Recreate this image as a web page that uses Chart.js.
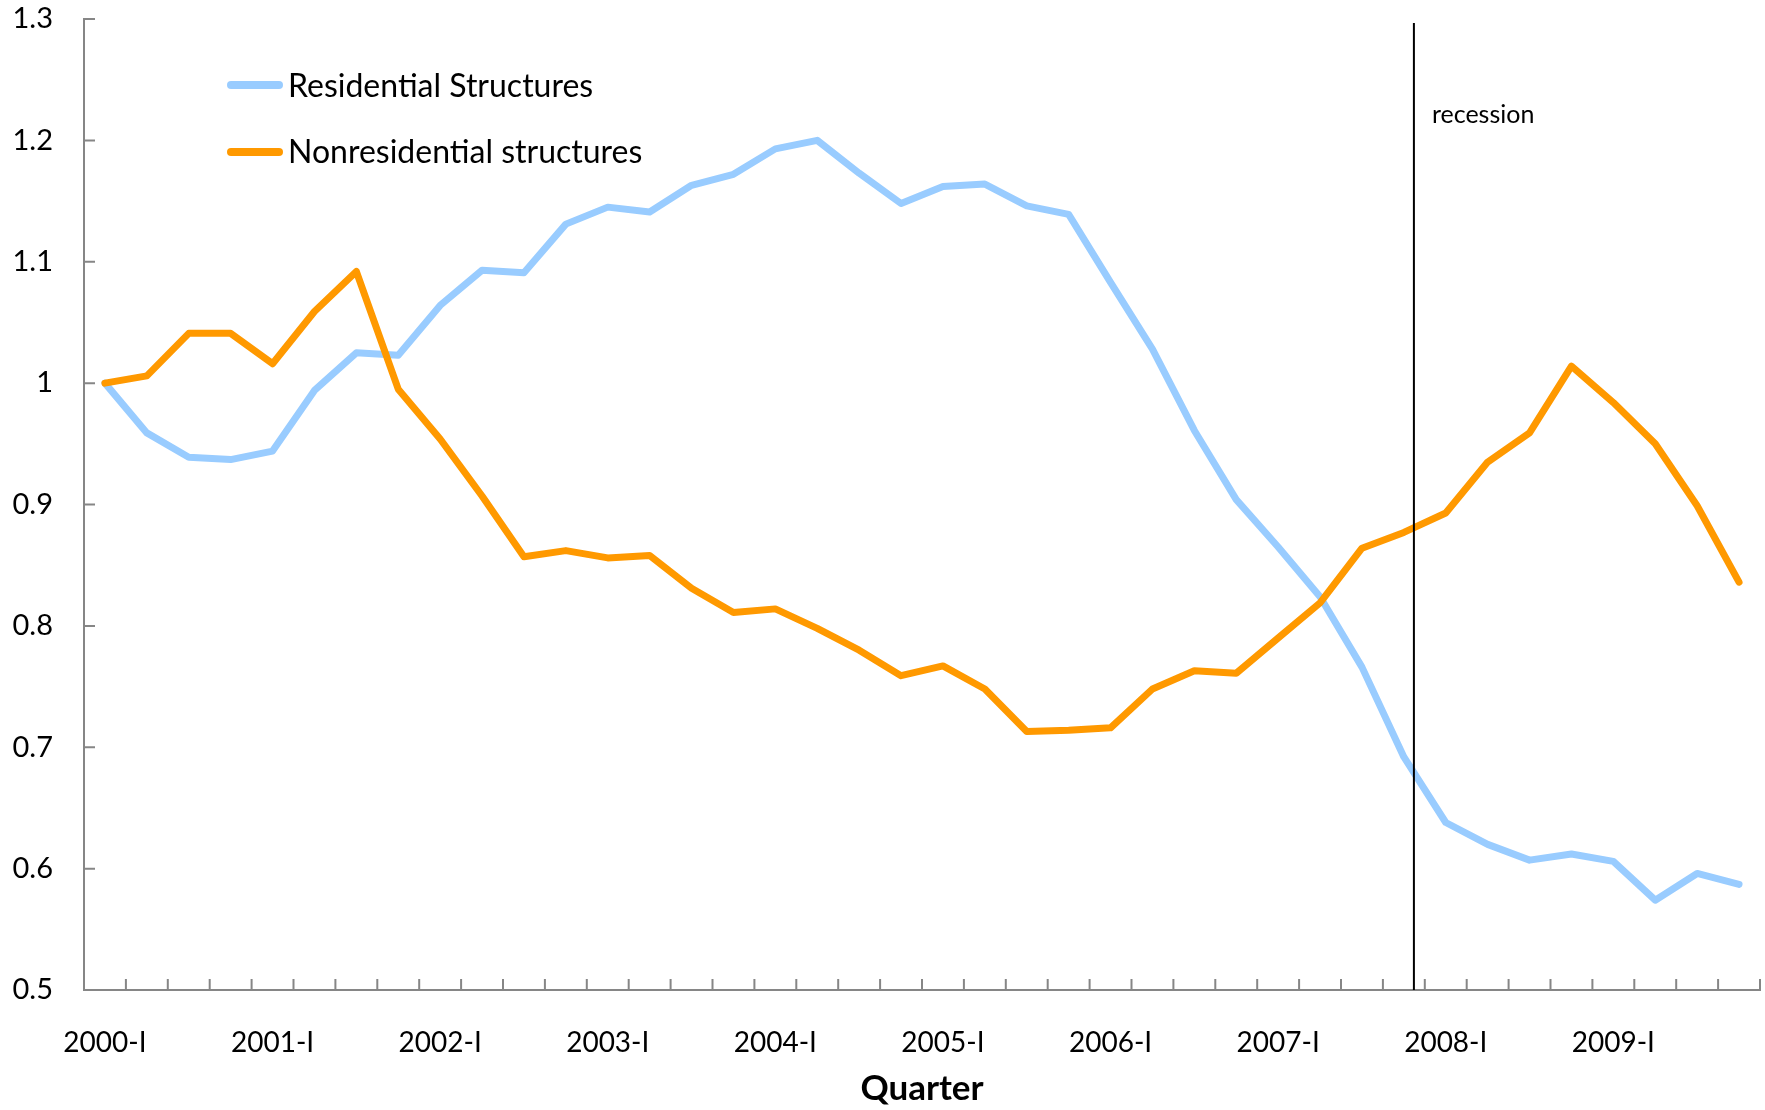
<!DOCTYPE html>
<html>
<head>
<meta charset="utf-8">
<script src="https://cdn.jsdelivr.net/npm/chart.js@4.4.1/dist/chart.umd.min.js"></script>
<style>
  html, body { margin: 0; padding: 0; background: #ffffff; }
  #wrap { width: 1765px; height: 1110px; }
</style>
</head>
<body>
<div id="wrap"><canvas id="c" width="1765" height="1110"></canvas></div>
<script>
// ---- data ----
const years = ['2000','2001','2002','2003','2004','2005','2006','2007','2008','2009'];
const quarterNames = ['I','II','III','IV'];
const quarters = [];
years.forEach(y => quarterNames.forEach(q => quarters.push(y + '-' + q)));

const residential = [
  1.000, 0.959, 0.939, 0.937, 0.944, 0.994, 1.025, 1.023, 1.064, 1.093,
  1.091, 1.131, 1.145, 1.141, 1.163, 1.172, 1.193, 1.200, 1.173, 1.148,
  1.162, 1.164, 1.146, 1.139, 1.083, 1.028, 0.961, 0.904, 0.865, 0.824,
  0.766, 0.692, 0.638, 0.620, 0.607, 0.612, 0.606, 0.574, 0.596, 0.587
];
const nonresidential = [
  1.000, 1.006, 1.041, 1.041, 1.016, 1.059, 1.092, 0.995, 0.954, 0.907,
  0.857, 0.862, 0.856, 0.858, 0.831, 0.811, 0.814, 0.798, 0.780, 0.759,
  0.767, 0.748, 0.713, 0.714, 0.716, 0.748, 0.763, 0.761, 0.790, 0.819,
  0.864, 0.877, 0.893, 0.935, 0.959, 1.014, 0.984, 0.950, 0.899, 0.836
];
const seriesNames = ['Residential Structures', 'Nonresidential structures'];
const seriesColors = ['#99CCFF', '#FF9900'];
const yMin = 0.5, yMax = 1.3, yStep = 0.1;
const labelEvery = 4;
const recessionIndex = 31.24;   // position in quarter units (late 2007-IV)
const recessionText = 'recession';
const xTitle = 'Quarter';

const FONT = 'Lato';
const AXIS_GRAY = '#868686';

// ---- plugins ----
const innerTicks = {
  id: 'innerTicks',
  beforeDatasetsDraw(chart) {
    const {ctx, chartArea: a, scales: {x, y}} = chart;
    ctx.save();
    ctx.strokeStyle = AXIS_GRAY;
    ctx.lineWidth = 2;
    ctx.beginPath();
    y.ticks.forEach(t => {
      const py = y.getPixelForValue(t.value);
      if (Math.abs(py - a.bottom) < 1) return;
      ctx.moveTo(a.left, py);
      ctx.lineTo(a.left + 11, py);
    });
    const step = x.getPixelForValue(1) - x.getPixelForValue(0);
    const x0 = x.getPixelForValue(0) - step / 2;
    for (let i = 0; i <= quarters.length; i++) {
      const px = x0 + i * step;
      ctx.moveTo(px, a.bottom);
      ctx.lineTo(px, a.bottom - 11);
    }
    ctx.stroke();
    ctx.restore();
  }
};

const recession = {
  id: 'recession',
  afterDatasetsDraw(chart) {
    const {ctx, chartArea: a, scales: {x}} = chart;
    const px = x.getPixelForValue(recessionIndex);
    ctx.save();
    ctx.strokeStyle = '#000000';
    ctx.lineWidth = 2;
    ctx.beginPath();
    ctx.moveTo(px, a.top + 4);
    ctx.lineTo(px, a.bottom);
    ctx.stroke();
    ctx.fillStyle = '#000000';
    ctx.font = '25px ' + FONT;
    ctx.textAlign = 'left';
    ctx.textBaseline = 'alphabetic';
    ctx.fillText(recessionText, px + 18, a.top + 104);
    ctx.restore();
  }
};

const customLegend = {
  id: 'customLegend',
  afterDatasetsDraw(chart) {
    const {ctx} = chart;
    const rows = [{lineY: 85, textY: 97}, {lineY: 152, textY: 163}];
    ctx.save();
    chart.data.datasets.forEach((ds, i) => {
      const r = rows[i];
      ctx.strokeStyle = ds.borderColor;
      ctx.lineWidth = 8;
      ctx.lineCap = 'round';
      ctx.beginPath();
      ctx.moveTo(231, r.lineY);
      ctx.lineTo(279, r.lineY);
      ctx.stroke();
      ctx.fillStyle = '#000000';
      ctx.font = '32px ' + FONT;
      ctx.textAlign = 'left';
      ctx.textBaseline = 'alphabetic';
      ctx.fillText(ds.label, 288, r.textY);
    });
    ctx.restore();
  }
};

// ---- chart ----
const lineStyle = {
  borderWidth: 7,
  pointRadius: 0,
  pointHoverRadius: 0,
  tension: 0,
  fill: false,
  borderCapStyle: 'round',
  borderJoinStyle: 'round'
};

new Chart(document.getElementById('c').getContext('2d'), {
  type: 'line',
  data: {
    labels: quarters,
    datasets: [
      Object.assign({label: seriesNames[0], data: residential, borderColor: seriesColors[0], backgroundColor: seriesColors[0], order: 2}, lineStyle),
      Object.assign({label: seriesNames[1], data: nonresidential, borderColor: seriesColors[1], backgroundColor: seriesColors[1], order: 1}, lineStyle)
    ]
  },
  options: {
    responsive: false,
    animation: false,
    devicePixelRatio: 1,
    layout: { padding: { left: 0, right: 5, top: 19, bottom: 0 } },
    plugins: { legend: { display: false }, tooltip: { enabled: false } },
    scales: {
      x: {
        type: 'category',
        offset: true,
        grid: { display: false, drawTicks: false },
        border: { display: true, color: AXIS_GRAY, width: 2 },
        ticks: {
          autoSkip: false,
          maxRotation: 0,
          minRotation: 0,
          padding: 36,
          color: '#000000',
          font: { family: FONT, size: 28 },
          callback: (v, i) => (i % labelEvery === 0 ? quarters[i] : '')
        },
        title: {
          display: true,
          text: xTitle,
          color: '#000000',
          font: { family: FONT, size: 35, weight: 'bold', lineHeight: 1.2 },
          padding: { top: 0, bottom: 0 }
        },
        afterFit: s => { s.height = 120; s.paddingLeft = 0; s.paddingRight = 0; }
      },
      y: {
        min: yMin,
        max: yMax,
        grid: { display: false, drawTicks: false },
        border: { display: true, color: AXIS_GRAY, width: 2 },
        ticks: {
          stepSize: yStep,
          padding: 31,
          color: '#000000',
          font: { family: FONT, size: 29 },
          callback: v => String(Math.round(v * 10) / 10)
        },
        afterFit: s => { s.width = 84; s.paddingTop = 0; s.paddingBottom = 0; }
      }
    }
  },
  plugins: [innerTicks, recession, customLegend]
});
</script>
</body>
</html>
